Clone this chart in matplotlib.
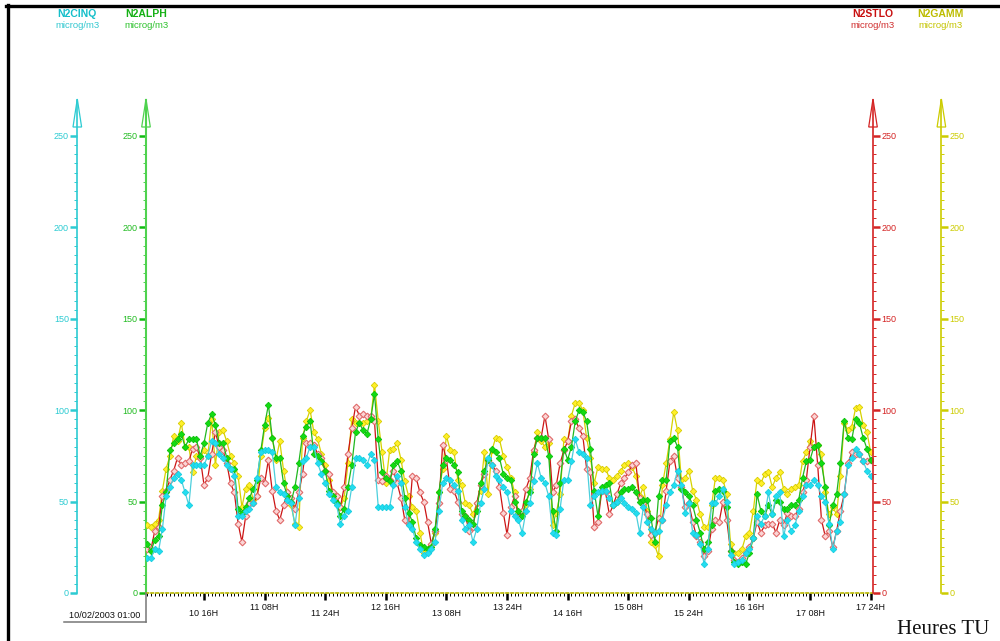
import numpy as np
import matplotlib
matplotlib.use("Agg")
import matplotlib.pyplot as plt
from matplotlib.ticker import FixedLocator
from matplotlib.patches import Polygon
from matplotlib.lines import Line2D

plt.rcParams["font.family"] = ["Liberation Sans", "DejaVu Sans"]

# Hourly NO2 concentrations (microg/m3), 10/02/2003 01:00 -> 17/02/2003 24:00
hours = np.arange(192)

n2cinq = [19, 19, 24, 23, 35, 53, 58, 63, 65, 62, 55, 48, 70, 70, 70, 70, 75, 83, 82, 76,
          74, 70, 68, 64, 42, 42, 45, 46, 49, 63, 77, 78,
          78, 77, 58, 55, 54, 51, 49, 37, 52, 72, 74, 80, 80, 71, 65, 60, 54, 51, 48, 38,
          42, 45, 58, 74, 74, 73, 70, 76, 73, 47, 47, 47,
          47, 59, 64, 60, 47, 37, 35, 28, 24, 21, 22, 24, 28, 45, 60, 63, 62, 59, 56, 40,
          35, 37, 28, 35, 49, 57, 74, 70, 64, 62, 58, 55,
          45, 42, 40, 33, 45, 49, 61, 71, 63, 60, 53, 33, 32, 46, 62, 62, 72, 84, 77, 76,
          74, 48, 53, 55, 56, 56, 52, 48, 50, 52, 49, 47,
          46, 44, 33, 47, 39, 35, 33, 34, 40, 48, 55, 59, 67, 59, 44, 49, 33, 32, 27, 16,
          24, 49, 49, 53, 57, 50, 21, 16, 17, 18, 22, 24,
          30, 42, 38, 42, 55, 43, 53, 55, 31, 40, 34, 37, 45, 53, 59, 59, 62, 59, 53, 50,
          38, 24, 34, 39, 54, 70, 74, 79, 76, 72, 67, 64]

n2alph = [27, 23, 29, 31, 48, 55, 78, 82, 84, 87, 80, 84, 84, 84, 75, 82, 93, 98, 92, 82,
          82, 74, 68, 68, 46, 44, 47, 52, 57, 62, 78, 92,
          103, 85, 74, 74, 60, 53, 50, 58, 71, 86, 91, 94, 76, 75, 72, 67, 56, 53, 49, 42,
          46, 58, 70, 88, 93, 89, 87, 95, 109, 84, 66, 63,
          61, 70, 72, 67, 52, 44, 39, 30, 26, 25, 24, 25, 35, 55, 70, 74, 73, 70, 66, 45,
          42, 40, 38, 45, 60, 67, 73, 79, 77, 74, 65, 63,
          62, 50, 45, 42, 50, 55, 76, 85, 85, 85, 75, 45, 34, 60, 79, 73, 80, 94, 100, 99,
          94, 79, 56, 42, 58, 59, 60, 48, 50, 55, 57, 57,
          58, 55, 50, 51, 51, 41, 28, 53, 62, 62, 83, 85, 80, 57, 55, 53, 48, 40, 33, 24,
          28, 37, 56, 57, 56, 47, 23, 17, 16, 17, 16, 22,
          30, 54, 45, 42, 48, 43, 51, 50, 46, 46, 48, 48, 51, 63, 72, 73, 80, 81, 71, 58,
          37, 48, 54, 71, 94, 85, 84, 95, 93, 85, 79, 73]

n2stlo = [24, 24, 34, 36, 53, 56, 62, 67, 74, 70, 71, 72, 79, 80, 74, 59, 63, 76, 88, 80,
          78, 71, 60, 55, 38, 28, 42, 49, 49, 53, 63, 60,
          73, 56, 45, 40, 48, 55, 52, 46, 55, 65, 82, 82, 81, 76, 74, 67, 65, 55, 53, 47,
          58, 76, 90, 102, 97, 98, 97, 97, 94, 62, 61, 64,
          62, 67, 60, 52, 40, 38, 64, 63, 55, 50, 39, 27, 34, 49, 81, 73, 57, 56, 50, 43,
          42, 34, 36, 49, 59, 65, 73, 70, 67, 58, 44, 32,
          47, 53, 41, 45, 57, 63, 78, 85, 85, 97, 84, 55, 59, 71, 78, 83, 94, 95, 90, 86,
          68, 66, 36, 39, 56, 55, 43, 48, 54, 60, 63, 66,
          70, 71, 52, 49, 43, 32, 33, 41, 40, 56, 72, 75, 63, 58, 47, 49, 39, 31, 28, 20,
          23, 35, 40, 39, 50, 40, 23, 18, 17, 19, 22, 25,
          30, 39, 33, 37, 38, 38, 33, 40, 37, 44, 42, 42, 46, 55, 62, 80, 97, 70, 40, 31,
          34, 25, 34, 45, 54, 71, 77, 76, 76, 72, 72, 73]

n2gamm = [37, 36, 38, 40, 56, 68, 75, 86, 83, 93, 80, 80, 66, 75, 74, 78, 75, 95, 70, 88,
          89, 83, 75, 71, 64, 47, 57, 59, 51, 53, 75, 90,
          96, 85, 73, 83, 67, 55, 48, 38, 36, 85, 94, 100, 88, 84, 76, 70, 62, 54, 53, 47,
          52, 71, 95, 93, 93, 93, 94, 95, 114, 94, 77, 60,
          78, 79, 82, 73, 61, 53, 47, 45, 33, 22, 24, 26, 33, 55, 68, 86, 78, 77, 62, 59,
          49, 48, 43, 49, 56, 77, 54, 78, 85, 84, 75, 69,
          63, 55, 44, 43, 48, 57, 77, 88, 83, 80, 82, 37, 44, 54, 84, 83, 97, 104, 104, 100,
          85, 74, 60, 69, 68, 68, 63, 62, 64, 67, 70, 71,
          69, 64, 53, 58, 45, 28, 26, 20, 59, 71, 84, 99, 89, 62, 63, 67, 56, 51, 43, 36,
          36, 48, 63, 63, 62, 54, 27, 22, 22, 24, 31, 33,
          45, 62, 60, 65, 66, 58, 63, 66, 57, 54, 57, 58, 59, 72, 77, 83, 80, 81, 76, 55,
          43, 47, 43, 64, 93, 89, 91, 101, 102, 92, 88, 77]

xtick_hours = [15, 31, 47, 63, 79, 95, 111, 127, 143, 159, 175, 191]
xtick_labels = ["10 16H", "11 08H", "11 24H", "12 16H", "13 08H", "13 24H",
                "14 16H", "15 08H", "15 24H", "16 16H", "17 08H", "17 24H"]
y_major = [0, 50, 100, 150, 200, 250]
start_label = "10/02/2003 01:00"
unit = "microg/m3"

# ---- figure geometry (pixels) ----
W, H = 1000, 641
fig = plt.figure(figsize=(W / 100, H / 100), dpi=100)
fig.patch.set_facecolor("white")


def fx(px):
    return px / W


def fy(py):
    return 1 - py / H


X0, X1 = 146, 873          # plot area left / right
Y0, YTOP = 593, 100        # value 0 / top of axis arrows
PX_PER_UNIT = 457 / 250.0
ymax = (Y0 - YTOP) / PX_PER_UNIT
hour_px = 3.788
xmin = -(147.2 - X0) / hour_px
xmax = xmin + (X1 - X0) / hour_px

ax = fig.add_axes([fx(X0), fy(Y0), fx(X1) - fx(X0), fy(YTOP) - fy(Y0)])
ax.set_xlim(xmin, xmax)
ax.set_ylim(0, ymax)
ax.patch.set_visible(False)

C_CYAN, C_GREEN, C_RED, C_YEL = "#2ccbd2", "#4fd24f", "#d42424", "#cccc00"

y_minor = [v for v in range(0, 251, 5) if v % 50]


def style_yaxis(a, side, color, offset_px):
    for s in a.spines.values():
        s.set_visible(False)
    sp = a.spines[side]
    sp.set_visible(True)
    sp.set_color(color)
    sp.set_linewidth(1.2)
    if offset_px:
        pos = -offset_px / (X1 - X0) if side == "left" else 1 + offset_px / (X1 - X0)
        sp.set_position(("axes", pos))
    a.yaxis.set_ticks_position(side)
    a.set_ylim(0, ymax)
    a.yaxis.set_major_locator(FixedLocator(y_major))
    a.yaxis.set_minor_locator(FixedLocator(y_minor))
    a.tick_params(axis="y", which="major", direction="out", length=5, width=1.8,
                  color=color, labelcolor=color, labelsize=6.5, pad=1)
    a.tick_params(axis="y", which="minor", direction="out", length=2.2, width=0.7,
                  color=color)


ax_c = ax.twinx()
ax_r = ax.twinx()
ax_y = ax.twinx()
style_yaxis(ax_c, "left", C_CYAN, 68.7)
style_yaxis(ax_r, "right", C_RED, 0)
style_yaxis(ax_y, "right", C_YEL, 68.4)

# main axes: green scale on the left, time scale at the bottom
for s in ("top", "right"):
    ax.spines[s].set_visible(False)
ax.spines["left"].set_color(C_GREEN)
ax.spines["left"].set_linewidth(1.5)
ax.spines["bottom"].set_color("#b8b800")
ax.spines["bottom"].set_linewidth(1.2)
ax.spines["bottom"].set_linestyle((0, (1.5, 1.5)))
ax.yaxis.set_ticks_position("left")
ax.yaxis.set_major_locator(FixedLocator(y_major))
ax.yaxis.set_minor_locator(FixedLocator(y_minor))
ax.tick_params(axis="y", which="major", direction="out", length=5, width=1.8,
               color="#11bb11", labelcolor="#22bb22", labelsize=6.5, pad=1)
ax.tick_params(axis="y", which="minor", direction="out", length=2.2, width=0.7,
               color=C_GREEN)

ax.xaxis.set_major_locator(FixedLocator(xtick_hours))
ax.set_xticklabels(xtick_labels)
ax.xaxis.set_minor_locator(FixedLocator([h for h in range(0, 192) if h not in xtick_hours]))
ax.tick_params(axis="x", which="major", direction="out", length=5, width=1.8,
               color="black", labelsize=6.5, labelcolor="#111111")
ax.tick_params(axis="x", which="minor", direction="out", length=2.3, width=0.7,
               color="black")
for i, t in enumerate(ax.xaxis.get_major_ticks()):
    t.set_pad(6.5 if i % 2 == 0 else 2.2)

# ---- series ----
ax.plot(hours, n2gamm, color="#d6d200", lw=0.9, marker="D", ms=3.3,
        mfc="#fff02a", mec="#d8cc00", mew=0.6, zorder=3)
ax.plot(hours, n2stlo, color="#cc1414", lw=0.9, marker="D", ms=3.4,
        mfc="#fbd6d6", mec="#e06a6a", mew=0.8, zorder=4)
ax.plot(hours, n2alph, color="#20b820", lw=0.9, marker="D", ms=3.3,
        mfc="#12dc12", mec="#0cc00c", mew=0.6, zorder=5)
ax.plot(hours, n2cinq, color="#4ccfdc", lw=0.9, marker="D", ms=3.3,
        mfc="#22def0", mec="#18cde0", mew=0.6, zorder=6)

# ---- axis arrow heads ----
for xp, col in ((77.3, C_CYAN), (X0, C_GREEN), (X1, C_RED), (X1 + 68.4, C_YEL)):
    tri = Polygon([(fx(xp - 4.3), fy(127)), (fx(xp), fy(99)), (fx(xp + 4.3), fy(127))],
                  closed=True, facecolor="none", edgecolor=col, lw=0.9,
                  transform=fig.transFigure, zorder=5)
    fig.add_artist(tri)

# ---- headers ----
headers = [(77, "N2CINQ", "#15bfca", "#33c8d0"),
           (146, "N2ALPH", "#14b014", "#2ec22e"),
           (872.5, "N2STLO", "#c81010", "#d03030"),
           (940.8, "N2GAMM", "#bcbc00", "#c4c400")]
for xp, name, c1, c2 in headers:
    fig.text(fx(xp), fy(14), name, ha="center", va="center", fontsize=7.5,
             fontweight="bold", color=c1)
    fig.text(fx(xp), fy(26), unit, ha="center", va="center", fontsize=6.8, color=c2)

# ---- start date box ----
fig.text(fx(105), fy(616), start_label, ha="center", va="center", fontsize=6.6,
         color="#111111")
fig.add_artist(Line2D([fx(64), fx(X0)], [fy(622), fy(622)], color="#777777", lw=1.1,
                      transform=fig.transFigure))
fig.add_artist(Line2D([fx(X0), fx(X0)], [fy(Y0), fy(622)], color="#777777", lw=1.1,
                      transform=fig.transFigure))

fig.text(fx(943), fy(630), "Heures TU", ha="center", va="center", fontsize=15,
         family=["Liberation Serif", "DejaVu Serif"], color="#111111")

# ---- window frame ----
fig.add_artist(Line2D([fx(6), fx(1000)], [fy(5.5), fy(5.5)], color="black", lw=2.4,
                      transform=fig.transFigure))
fig.add_artist(Line2D([fx(7.5), fx(7.5)], [fy(4.5), fy(641)], color="black", lw=2.4,
                      transform=fig.transFigure))

fig.savefig("out.png", dpi=100, facecolor="white")
